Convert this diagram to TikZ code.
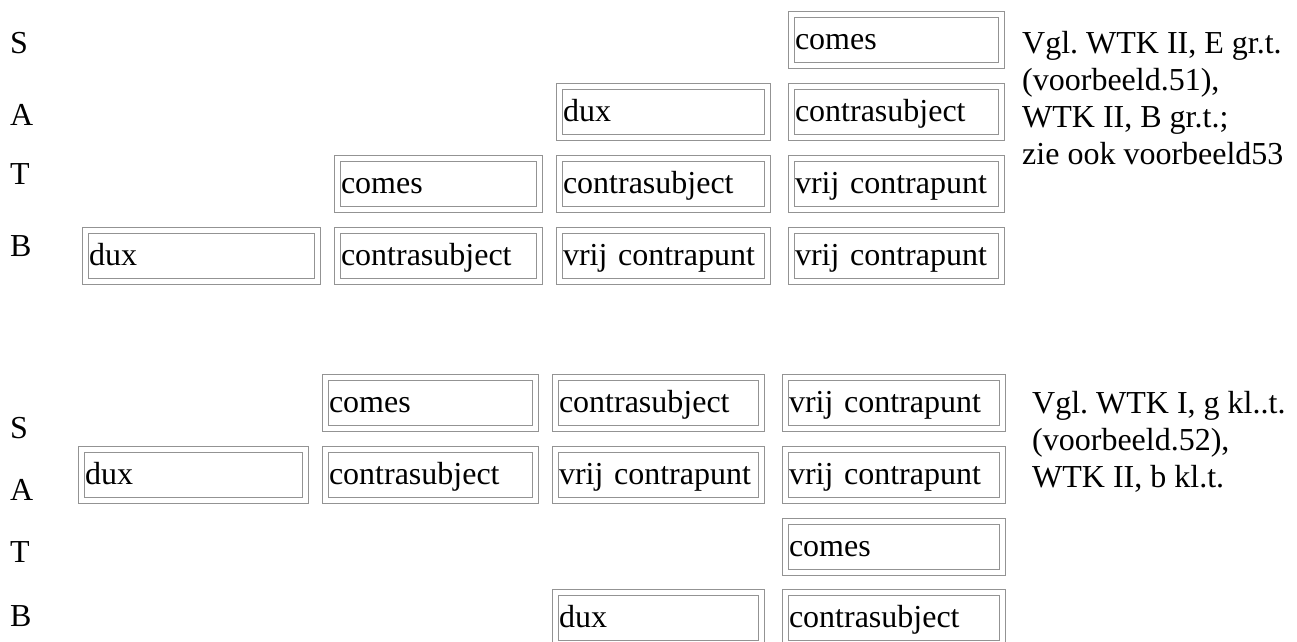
\documentclass[tikz,border=0pt]{standalone}
\usepackage{fontspec}
\setmainfont{Liberation Serif}
\frenchspacing
\tikzset{
  cell/.style={draw=gray!85, double=white, double distance=5pt, line width=1pt,
    anchor=north west, minimum height=51pt, inner xsep=4pt, inner ysep=0pt,
    text height=26pt, text depth=6pt, align=left, text width=#1},
  voice/.style={anchor=base west, inner sep=0pt},
  note/.style={anchor=base west, inner sep=0pt, align=left}
}
\begin{document}
\begin{tikzpicture}[x=1pt,y=-1pt,font=\fontsize{32}{37}\selectfont]
      \useasboundingbox (0,0) rectangle (1297,641);
      % first exposition
      \draw
        (10,53) node[voice] (vS){S}
        (10,125) node[voice] (vA){A}
        (10,184) node[voice] (vT){T}
        (10,256) node[voice] (vB){B};
      \node[cell=202pt] (tS3) at (790.5,13.5) {comes};
      \node[cell=200pt] (tA2) at (558.5,85.5) {dux};
      \node[cell=202pt] (tA3) at (790.5,85.5) {contrasubject};
      \node[cell=194pt] (tT1) at (336.5,157.5) {comes};
      \node[cell=200pt] (tT2) at (558.5,157.5) {contrasubject};
      \node[cell=202pt] (tT3) at (790.5,157.5) {vrij contrapunt};
      \node[cell=224pt] (tB0) at (84.5,229.5) {dux};
      \node[cell=194pt] (tB1) at (336.5,229.5) {contrasubject};
      \node[cell=200pt] (tB2) at (558.5,229.5) {vrij contrapunt};
      \node[cell=202pt] (tB3) at (790.5,229.5) {vrij contrapunt};
      % base of a multi-line node is its last line
      \node[note] (tnote) at (1022,164)
        {Vgl. WTK II, E gr.t.\\(voorbeeld.51),\\WTK II, B gr.t.;\\zie ook voorbeeld53};
      % second exposition
      \draw
        (10,438) node[voice] (wS){S}
        (10,500) node[voice] (wA){A}
        (10,562) node[voice] (wT){T}
        (10,626) node[voice] (wB){B};
      \node[cell=202pt] (bS1) at (324.5,376.5) {comes};
      \node[cell=198pt] (bS2) at (554.5,376.5) {contrasubject};
      \node[cell=209pt] (bS3) at (784.5,376.5) {vrij contrapunt};
      \node[cell=216pt] (bA0) at (80.5,448.5) {dux};
      \node[cell=202pt] (bA1) at (324.5,448.5) {contrasubject};
      \node[cell=198pt] (bA2) at (554.5,448.5) {vrij contrapunt};
      \node[cell=209pt] (bA3) at (784.5,448.5) {vrij contrapunt};
      \node[cell=209pt] (bT3) at (784.5,520.5) {comes};
      \node[cell=198pt] (bB2) at (554.5,591.5) {dux};
      \node[cell=209pt] (bB3) at (784.5,591.5) {contrasubject};
      \node[note] (bnote) at (1032,487)
        {Vgl. WTK I, g kl..t.\\(voorbeeld.52),\\WTK II, b kl.t.};
    \end{tikzpicture}
\end{document}
